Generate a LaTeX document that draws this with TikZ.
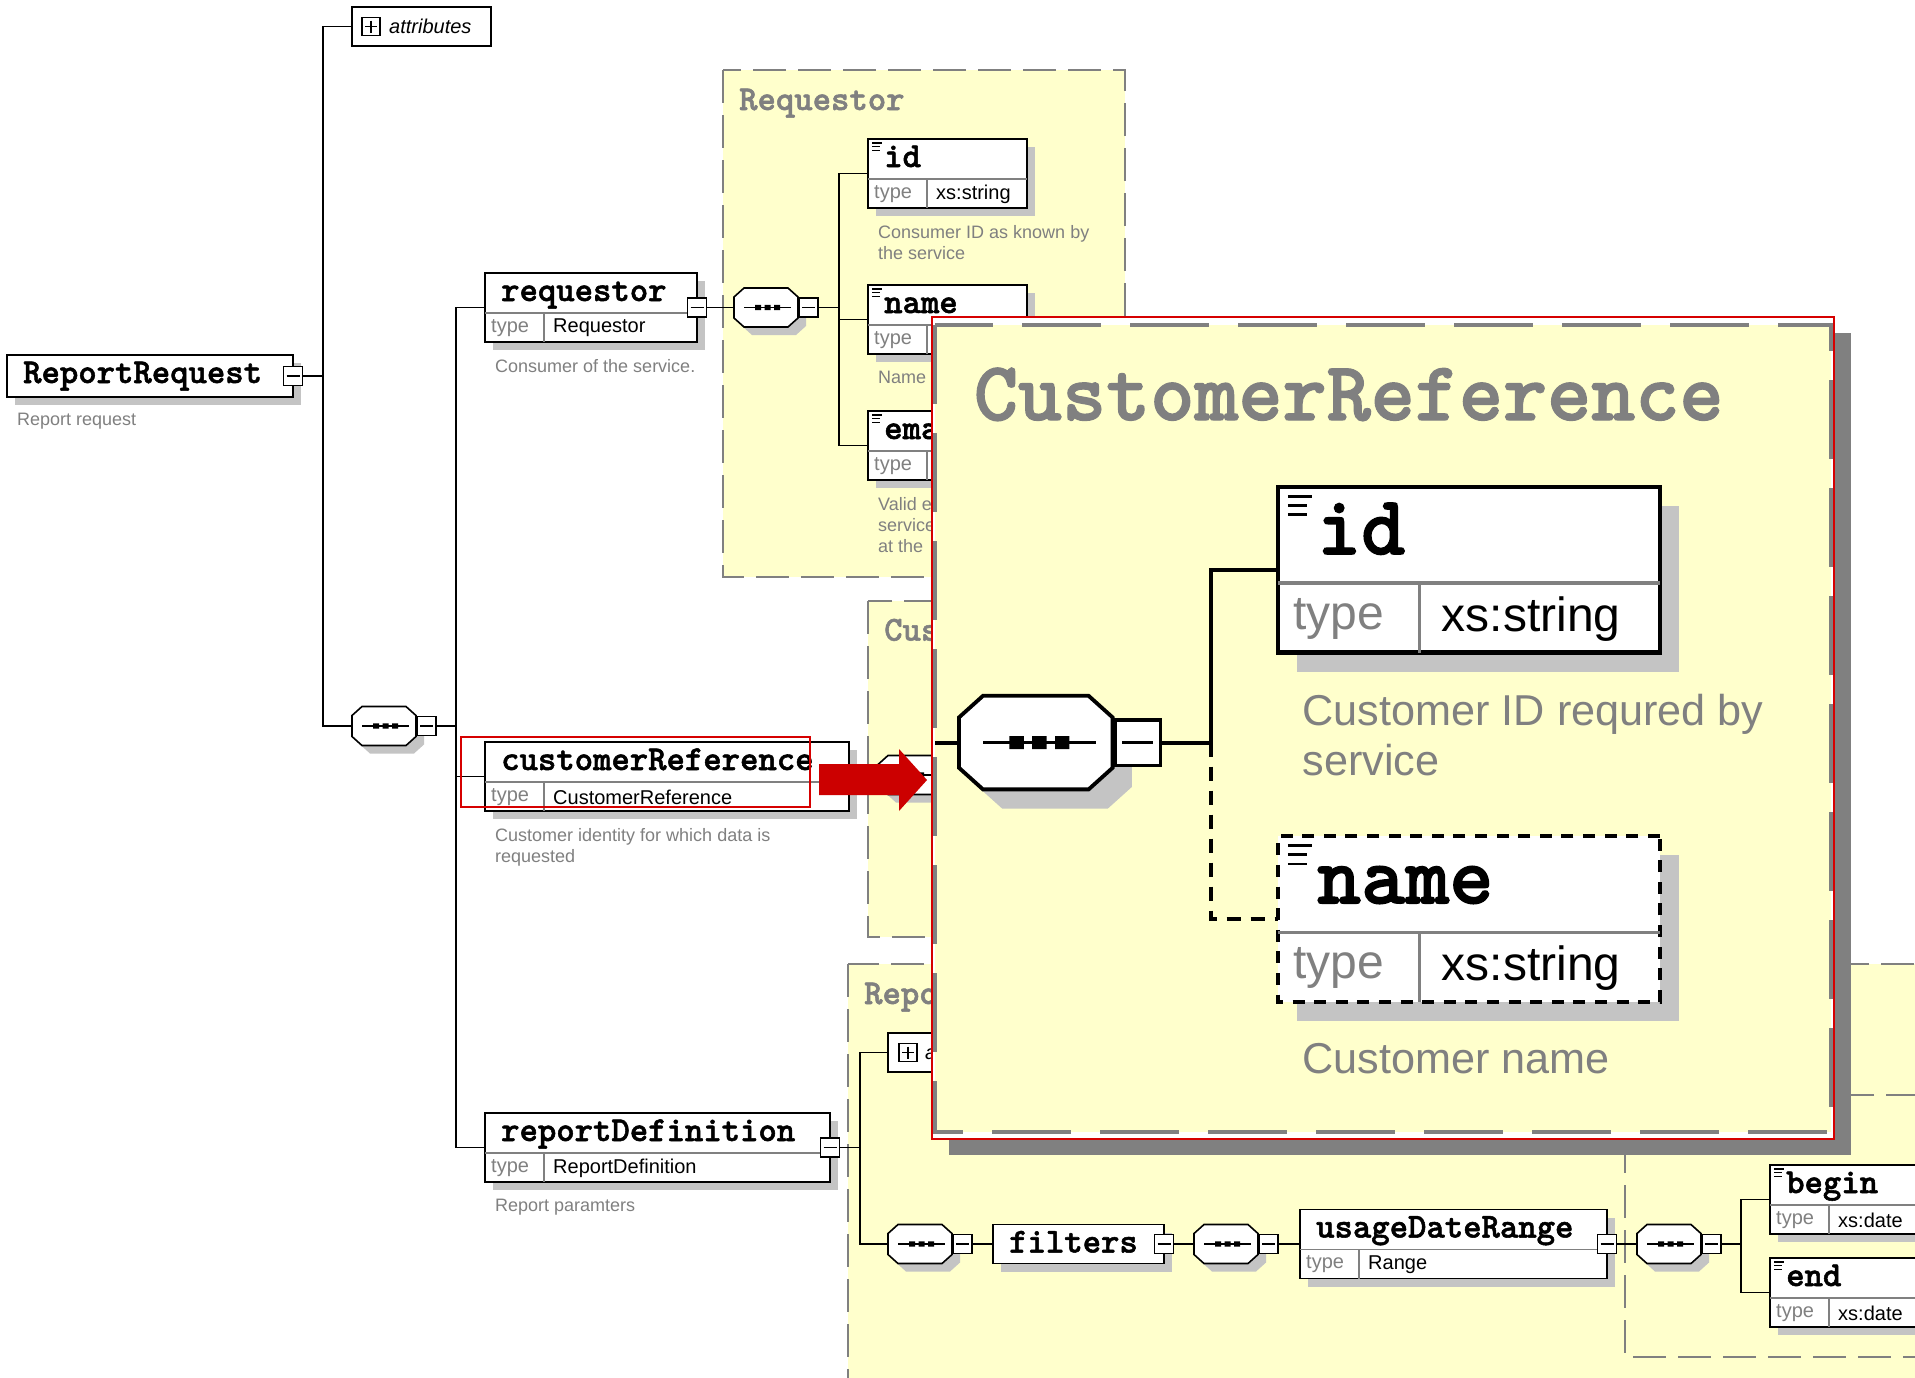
\documentclass[tikz,border=0pt]{standalone}
\usepackage{fontspec}
\newfontfamily\sansf{Liberation Sans}
\newfontfamily\xmltt{lmmonolt10-bold.otf}[FakeBold=1.5]
\usetikzlibrary{calc}
\definecolor{yelfill}{RGB}{255,255,204}
\definecolor{grline}{RGB}{128,128,128}
\definecolor{shadecol}{RGB}{196,196,196}
\definecolor{darkshade}{RGB}{128,128,128}
\definecolor{hilite}{RGB}{214,0,0}
\definecolor{arrowred}{RGB}{204,0,0}

% line widths grow with the zoomed copy
\def\zoomf{1}

% element with a type row: [style] name, x, y, width, title, type
\newcommand\xelem[7][]{%
  \fill[boxshade] (#3+8,#4+8) rectangle (#3+#5+8,#4+77);
  \node[elbox,#1,minimum width=#5pt,minimum height=69pt,anchor=north west] (#2) at (#3,#4) {};
  \draw[divline] (#3,#4+40) -- (#3+#5,#4+40) (#3+59,#4+40) -- (#3+59,#4+69);
  \node[eltitle,anchor=base west] (#2-t) at (#3+16,#4+28) {#6};
  \node[typekey,anchor=west] (#2-k) at (#3+6,#4+55) {type};
  \node[typeval,anchor=west] (#2-v) at (#3+68,#4+55) {#7};
  \coordinate (#2-in) at (#3,#4+34.5);
}
% element without type row: name, x, y, width, height, title
\newcommand\pelem[6]{%
  \fill[boxshade] (#2+8,#3+8) rectangle (#2+#4+8,#3+#5+8);
  \node[elbox,minimum width=#4pt,minimum height=#5pt,anchor=north west] (#1) at (#2,#3) {};
  \node[eltitle,anchor=base west] (#1-t) at (#2+16,#3+28) {#6};
}
% collapse toggle
\newcommand\tgl[3]{%
  \node[toggle] (#1) at (#2,#3) {};
  \draw[tgline] (#2-6.5,#3) -- (#2+6.5,#3);
}
\newcommand\plusicon[3]{%
  \node[toggle,minimum size=18pt] (#1) at (#2,#3) {};
  \draw[tgline] (#2-6,#3) -- (#2+6,#3) (#2,#3-6) -- (#2,#3+6);
}
\newcommand\docicon[2]{%
  \draw[iconline] (#1+4,#2+4) -- (#1+14,#2+4) (#1+4,#2+7.8) -- (#1+12,#2+7.8)
    (#1+4,#2+11.6) -- (#1+12,#2+11.6);
}
% sequence compositor: name, left x, centre y
\newcommand\seqc[3]{%
  \fill[boxshade] (#2+8,#3-2.5) -- (#2+18,#3-11.5) -- (#2+62,#3-11.5) -- (#2+72,#3-2.5)
    -- (#2+72,#3+18.5) -- (#2+62,#3+27.5) -- (#2+18,#3+27.5) -- (#2+8,#3+18.5) -- cycle;
  \draw[seqbox] (#2,#3-10.5) -- (#2+10,#3-19.5) -- (#2+54,#3-19.5) -- (#2+64,#3-10.5)
    -- (#2+64,#3+10.5) -- (#2+54,#3+19.5) -- (#2+10,#3+19.5) -- (#2,#3+10.5) -- cycle;
  \draw[tgline] (#2+10,#3) -- (#2+57,#3);
  \fill (#2+21,#3-2.7) rectangle ++(6,5.4) (#2+30.5,#3-2.7) rectangle ++(6,5.4)
    (#2+40,#3-2.7) rectangle ++(6,5.4);
  \coordinate (#1) at (#2,#3);
  \tgl{#1-tg}{#2+74.5}{#3}
}

\tikzset{
  magdash/.code args={#1/#2}{%
    \pgfmathsetmacro\dOn{#1*\zoomf}\pgfmathsetmacro\dOff{#2*\zoomf}%
    \edef\dashtmp{\noexpand\pgfkeysalso{dash pattern=on \dOn pt off \dOff pt}}\dashtmp},
  pics/custref/.style={code={
    \draw[yelbox] (0,0) rectangle (373.3,336.25);
    \node[grtitle,anchor=base west] (-ttl) at (16,39.6) {CustomerReference};
    \seqc{-seq}{10}{174}
    \xelem{-id}{143}{67.5}{159}{id}{xs:string}
    \docicon{143}{67.5}
    \xelem[optbox]{-nm}{143}{213}{159}{name}{xs:string}
    \docicon{143}{213}
    \node[desc,anchor=north west] (-idd) at (153,153.5) {Customer ID requred by\\service};
    \node[desc,anchor=north west] (-nmd) at (153,299) {Customer name};
    \coordinate (-edge) at (0,174);
    \coordinate (-br) at (115,174);
    \draw[link] (-edge) -- (-seq);
    \draw[link] (-seq-tg.east) -- (-br);
    \draw[link] (-br) |- (-id-in);
    \draw[optlink] (-br) |- (-nm-in);
  }}
}

\begin{document}
\begin{tikzpicture}[x=1pt, y=-1pt,
    boxshade/.style={fill=shadecol},
    elbox/.style={draw=black, fill=white, line width=1.8*\zoomf, inner sep=0pt, outer sep=0pt},
    optbox/.style={magdash=5/4},
    divline/.style={draw=grline, line width=1.4*\zoomf},
    eltitle/.style={font=\xmltt\fontsize{35}{35}\selectfont, inner sep=0pt},
    grtitle/.style={eltitle, text=grline},
    typekey/.style={font=\sansf\fontsize{20}{20}\selectfont, text=grline, inner sep=0pt},
    typeval/.style={font=\sansf\fontsize{20}{20}\selectfont, inner sep=0pt},
    desc/.style={font=\sansf\fontsize{18}{21}\selectfont, text=grline, align=left, inner sep=0pt},
    link/.style={line width=1.6*\zoomf},
    optlink/.style={link, magdash=6/4},
    seqbox/.style={draw=black, fill=white, line width=1.6*\zoomf},
    tgline/.style={line width=1.5*\zoomf},
    toggle/.style={draw=black, fill=white, line width=1.5*\zoomf, minimum size=19pt, inner sep=0pt, outer sep=0pt},
    iconline/.style={line width=1.2*\zoomf},
    yelbox/.style={fill=yelfill, draw=grline, line width=2*\zoomf, magdash=33/12},
    attrbox/.style={draw=black, fill=white, line width=1.6, minimum width=139pt, minimum height=39pt, inner sep=0pt, outer sep=0pt},
    attrtxt/.style={font=\sansf\itshape\fontsize{20}{20}\selectfont, inner sep=0pt}
  ]
  \useasboundingbox (0,0) rectangle (1915,1377);
  \clip (0,0) rectangle (1915,1377);
  \fill[white] (0,0) rectangle (1915,1377);

  % complex types
  \draw[yelbox] (723,70) rectangle (1125,577);
  \node[grtitle,anchor=base west] (reqty) at (739,110) {Requestor};
  \draw[yelbox] (848,964) rectangle (1960,1420);
  \node[grtitle,anchor=base west] (repty) at (864,1004) {ReportDefinition};
  \draw[yelbox] (1625,1095) rectangle (1960,1357);
  \begin{scope}
    \clip (840,590) rectangle (932,950);
    \pic (cs) at (868,601) {custref};
  \end{scope}

  % root element
  \pelem{rr}{7}{355}{286}{42}{ReportRequest}
  \tgl{rr-tg}{293}{376}
  \node[desc,anchor=north west] (rr-d) at (17,413) {Report request};
  \node[attrbox,anchor=north west] (attr) at (352,7) {};
  \plusicon{attr-ic}{371}{26.5}
  \node[attrtxt,anchor=west] (attr-t) at (389,26.5) {attributes};
  \seqc{sq1}{352}{726}

  % children of ReportRequest
  \xelem{req}{485}{273}{212}{requestor}{Requestor}
  \tgl{req-tg}{697}{307.5}
  \node[desc,anchor=north west] (req-d) at (495,359) {Consumer of the service.};
  \xelem{cr}{485}{742}{364}{customerReference}{CustomerReference}
  \tgl{cr-tg}{849}{776.5}
  \node[desc,anchor=north west] (cr-d) at (495,828) {Customer identity for which data is\\requested};
  \xelem{rd}{485}{1113}{345}{reportDefinition}{ReportDefinition}
  \tgl{rd-tg}{830}{1147.5}
  \node[desc,anchor=north west] (rd-d) at (495,1199) {Report paramters};

  % Requestor
  \seqc{sq2}{734}{307.5}
  \xelem{id}{868}{139}{159}{id}{xs:string}
  \docicon{868}{139}
  \node[desc,anchor=north west] (id-d) at (878,225) {Consumer ID as known by\\the service};
  \xelem{nm}{868}{285}{159}{name}{}
  \docicon{868}{285}
  \node[desc,anchor=north west] (nm-d) at (878,371) {Name};
  \xelem{em}{868}{411}{159}{email}{}
  \docicon{868}{411}
  \node[desc,anchor=north west] (em-d) at (878,497) {Valid e\\service\\at the};

  % ReportDefinition
  \node[attrbox,anchor=north west] (attr2) at (888,1033) {};
  \plusicon{attr2-ic}{908}{1052.5}
  \node[attrtxt,anchor=west] (attr2-t) at (925,1052.5) {attributes};
  \seqc{sq5}{888}{1244}
  \pelem{flt}{993}{1224.5}{171}{39}{filters}
  \tgl{flt-tg}{1164}{1244}
  \seqc{sq6}{1194}{1244}
  \xelem{udr}{1300}{1209.5}{307}{usageDateRange}{Range}
  \tgl{udr-tg}{1607}{1244}
  \seqc{sq7}{1637}{1244}
  \xelem{bg}{1770}{1165}{200}{begin}{xs:date}
  \docicon{1770}{1165}
  \xelem{en}{1770}{1258}{200}{end}{xs:date}
  \docicon{1770}{1258}

  % connectors
  \coordinate (tr1) at (323,376);
  \coordinate (tr2) at (456,726);
  \coordinate (br2) at (839,307.5);
  \coordinate (br3) at (860,1147.5);
  \coordinate (br4) at (1741,1244);
  \draw[link] (rr-tg.east) -- (tr1);
  \draw[link] (attr.west) -| (tr1) |- (sq1);
  \draw[link] (sq1-tg.east) -- (tr2);
  \draw[link] (req-in) -| (tr2) |- (rd-in);
  \draw[link] (tr2) |- (cr-in);
  \draw[link] (req-tg.east) -- (sq2);
  \draw[link] (sq2-tg.east) -- (br2);
  \draw[link] (id-in) -| (br2) |- (em-in);
  \draw[link] (br2) |- (nm-in);
  \draw[link] (cr-tg.east) -- (cs-seq);
  \draw[link] (rd-tg.east) -- (br3);
  \draw[link] (attr2.west) -| (br3) |- (sq5);
  \draw[link] (sq5-tg.east) -- (flt.west);
  \draw[link] (flt-tg.east) -- (sq6);
  \draw[link] (sq6-tg.east) -- (udr-in);
  \draw[link] (udr-tg.east) -- (sq7);
  \draw[link] (sq7-tg.east) -- (br4);
  \draw[link] (bg-in) -| (br4) |- (en-in);

  % highlight and zoom
  \draw[hilite, line width=1.5] (461,737) rectangle (810,807);
  \fill[arrowred] (819,764) -- (899,764) -- (899,749) -- (927,780) -- (899,811)
    -- (899,795) -- (819,795) -- cycle;
  \fill[darkshade] (949,333) rectangle (1851,1155);
  \fill[white] (932,317) rectangle (1834,1139);
  \begin{scope}[shift={(935,325)}, scale=2.4, transform shape]
    \def\zoomf{2.4}
    \pic (cb) {custref};
  \end{scope}
  \draw[hilite, line width=1.5] (932,317) rectangle (1834,1139);
\end{tikzpicture}
\end{document}
